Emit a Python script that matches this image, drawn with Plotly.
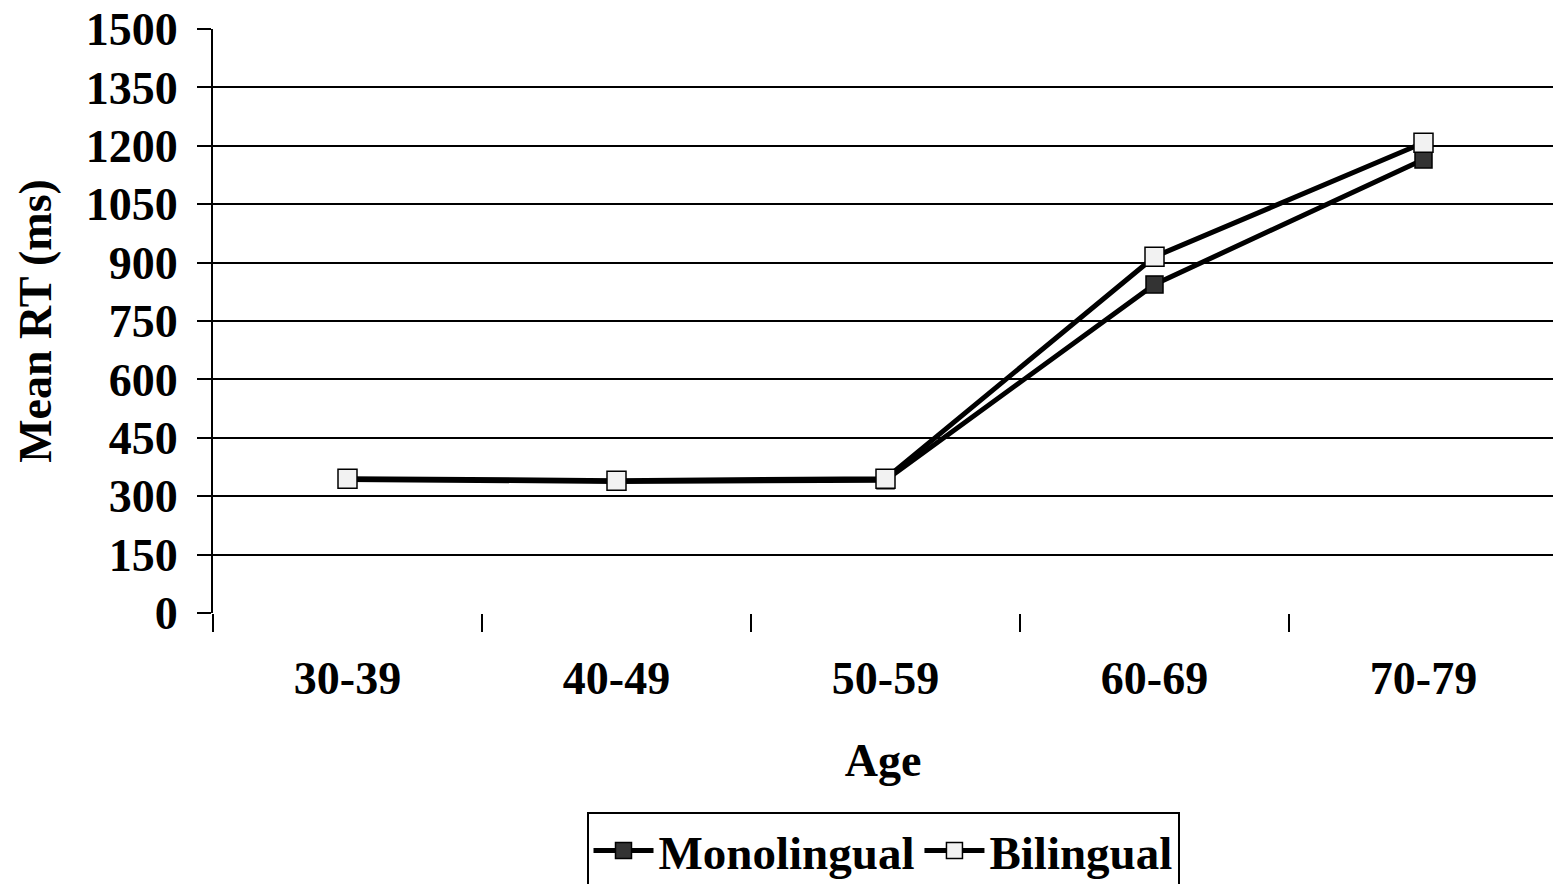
import plotly.graph_objects as go

# Mean reaction time by age group
age_groups = ["30-39", "40-49", "50-59", "60-69", "70-79"]
monolingual = [343, 338, 341, 844, 1165]
bilingual = [345, 340, 345, 915, 1208]
y_ticks = [0, 150, 300, 450, 600, 750, 900, 1050, 1200, 1350, 1500]

FONT = "Liberation Serif, Times New Roman, serif"

fig = go.Figure()
fig.add_trace(go.Scatter(
    x=age_groups, y=monolingual, name="Monolingual", mode="lines+markers",
    line=dict(color="black", width=5),
    marker=dict(symbol="square", size=17, color="#333333",
                line=dict(color="black", width=1.5)),
))
fig.add_trace(go.Scatter(
    x=age_groups, y=bilingual, name="Bilingual", mode="lines+markers",
    line=dict(color="black", width=5),
    marker=dict(symbol="square", size=19, color="#f2f2f2",
                line=dict(color="black", width=1.5)),
))

fig.update_layout(
    width=1553, height=884,
    margin=dict(l=213, r=0, t=29, b=271, autoexpand=False),
    paper_bgcolor="white", plot_bgcolor="white",
    font=dict(family=FONT, size=46, color="black", weight="bold"),
    showlegend=True,
    legend=dict(
        orientation="h", x=0.5, xanchor="center", y=-0.34, yanchor="top",
        bordercolor="black", borderwidth=2, bgcolor="white",
        font=dict(family=FONT, size=47, color="black", weight="bold"),
        itemwidth=60, tracegroupgap=0,
    ),
)

fig.update_xaxes(
    type="category",
    range=[-0.5, 4.5 - 5 / 269],
    tickson="boundaries", ticks="outside", ticklen=18, tickwidth=2,
    tickcolor="black", showgrid=False, showline=False, zeroline=False,
    ticklabelstandoff=34,
    title=dict(text="Age", standoff=40,
               font=dict(family=FONT, size=46, color="black", weight="bold")),
)
fig.update_yaxes(
    range=[0, 1500], tickvals=y_ticks, ticktext=[str(v) for v in y_ticks],
    ticks="outside", ticklen=14, tickwidth=2, tickcolor="black",
    showgrid=True, gridcolor="black", gridwidth=2,
    showline=True, linecolor="black", linewidth=2, zeroline=False,
    ticklabelstandoff=10,
    title=dict(text="Mean RT (ms)", standoff=20,
               font=dict(family=FONT, size=46, color="black", weight="bold")),
)

fig.write_html("out.html")
